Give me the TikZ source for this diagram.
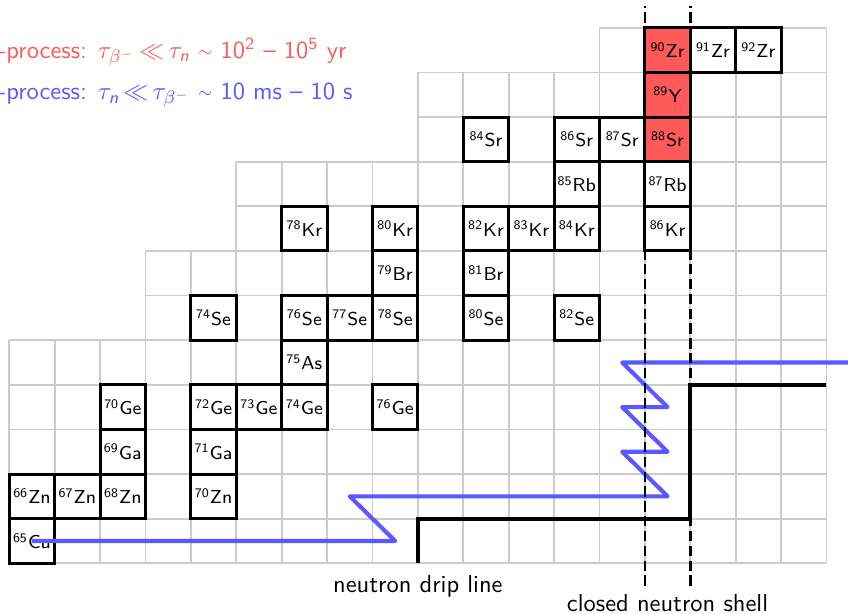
\documentclass[tikz,border=0pt]{standalone}
\usepackage{amsmath}

\colorlet{sproc}{red!65}
\colorlet{rproc}{blue!65}
\newcommand{\smallsim}{\raisebox{0.9pt}{\fontsize{7}{8}\selectfont$\sim$}}
\newcommand{\mll}{\mskip3mu{\ll}\mskip3mu}

\begin{document}
\begin{tikzpicture}[x=0.7cm, y=0.688cm, every node/.style={font=\sffamily},
    gridline/.style={black!20, line width=0.8pt, xstep=0.7cm, ystep=0.688cm},
    iso/.style={draw, line width=1.3pt, fill=white, inner sep=0pt,
      minimum width=0.7cm, minimum height=0.688cm,
      font=\sffamily\fontsize{8.2}{10}\selectfont},
    bigtext/.style={font=\sffamily\fontsize{10.75}{13}\selectfont, inner sep=0pt},
    shell/.style={black, line width=1.2pt, dash pattern=on 4.5pt off 2pt}]
  % Frame
  \useasboundingbox (-0.205,-1.134) rectangle (18.474,12.624);

  % Chart grid (N to the right, Z upwards)
  \draw[gridline] (0,0) grid (18,5);
  \draw[gridline] (3,5) grid (18,7);
  \draw[gridline] (5,7) grid (18,9);
  \draw[gridline] (9,9) grid (18,11);
  \draw[gridline] (13,11) grid (18,12);

  % Stable isotopes: column/row/mass/element
  \foreach \c/\r/\A/\el in {0/0/65/Cu,
      0/1/66/Zn, 1/1/67/Zn, 2/1/68/Zn, 4/1/70/Zn,
      2/2/69/Ga, 4/2/71/Ga,
      2/3/70/Ge, 4/3/72/Ge, 5/3/73/Ge, 6/3/74/Ge, 8/3/76/Ge,
      6/4/75/As,
      4/5/74/Se, 6/5/76/Se, 7/5/77/Se, 8/5/78/Se, 10/5/80/Se, 12/5/82/Se,
      8/6/79/Br, 10/6/81/Br,
      6/7/78/Kr, 8/7/80/Kr, 10/7/82/Kr, 11/7/83/Kr, 12/7/84/Kr, 14/7/86/Kr,
      12/8/85/Rb, 14/8/87/Rb,
      10/9/84/Sr, 12/9/86/Sr, 13/9/87/Sr,
      15/11/91/Zr, 16/11/92/Zr}
    \node[iso] (\el\A) at (\c+0.5,\r+0.5) {\textsuperscript{\A}\el};

  % s-process path on the closed shell
  \foreach \c/\r/\A/\el in {14/9/88/Sr, 14/10/89/Y, 14/11/90/Zr}
    \node[iso, fill=sproc] (\el\A) at (\c+0.5,\r+0.5) {\textsuperscript{\A}\el};

  % r-process path
  \draw[rproc, line width=1.8pt, line join=round] (Cu65.center) -- (8.5,0.5) -- (7.5,1.5)
    -- (14.5,1.5) -- (13.5,2.5) -- (14.5,2.5) -- (13.5,3.5) -- (14.5,3.5)
    -- (13.5,4.5) -- (19,4.5);

  % Neutron drip line
  \draw[line width=1.8pt] (9,0) -- (9,1) -- (15,1) -- (15,4) -- (18,4);
  \node[bigtext, anchor=base] (drip) at (9,-0.65) {neutron drip line};

  % Closed neutron shell
  \draw[shell] (14,-0.5) -- (14,12.5);
  \draw[shell] (15,-0.5) -- (15,12.5);
  \node[bigtext, anchor=base] (shell) at (14.5,-1.08) {closed neutron shell};

  % Time scales
  \node[bigtext, text=sproc, anchor=base west] (slabel) at (-0.46,11.32)
    {s-process: $\tau_{\beta^-} \mll \tau_{\textit{n}}$ \smallsim{} 10\textsuperscript{2} -- 10\textsuperscript{5} yr};
  \node[bigtext, text=rproc, anchor=base west] (rlabel) at (-0.44,10.39)
    {r-process: $\tau_{\textit{n}} \mll \tau_{\beta^-}$ \smallsim{} 10 ms -- 10 s};
\end{tikzpicture}
\end{document}
